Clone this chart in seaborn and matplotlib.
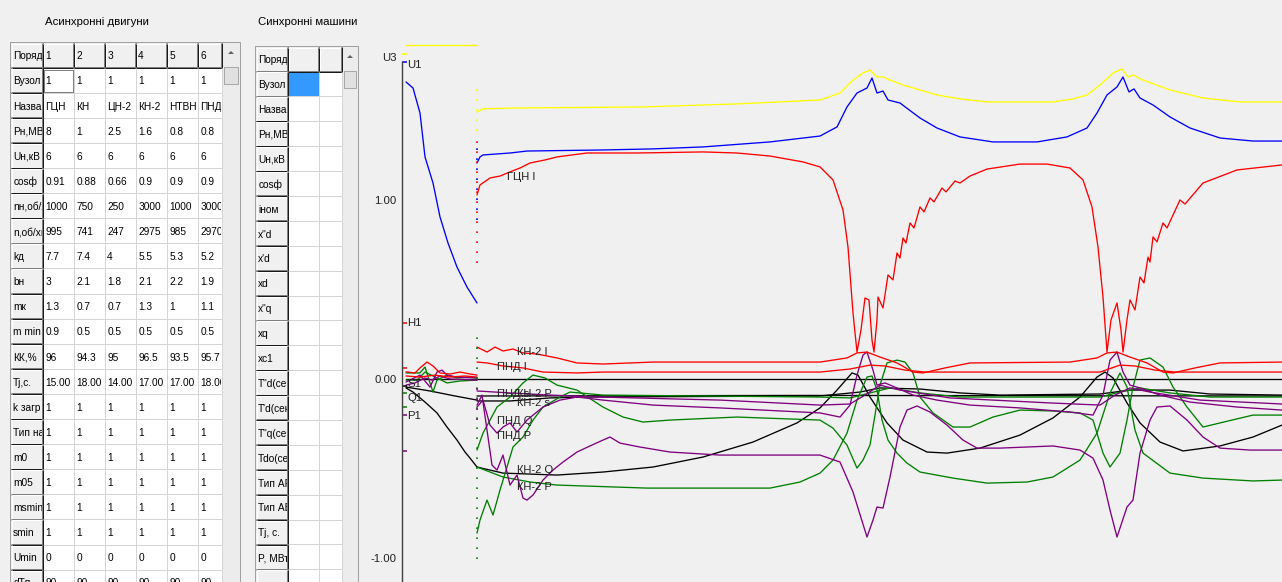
import matplotlib
matplotlib.use("Agg")
import matplotlib.pyplot as plt
from matplotlib.patches import Rectangle, Polygon
import seaborn as sns

W, H = 1282, 582
BG = "#f0f0f0"

sns.set_theme(style="white")
plt.rcParams["font.family"] = ["Liberation Sans", "DejaVu Sans"]

# ---------------- induction motors table ----------------
ad_title = "Асинхронні двигуни"
ad_fields = ["Поряд", "Вузол", "Назва", "Рн,МВт", "Uн,кВ", "cosф", "nн,об/хв", "n,об/хв",
             "kд", "bн", "mк", "m min", "КК,%", "Tj,c.", "k загр", "Тип нав", "m0", "m05",
             "msmin", "smin", "Umin", "dTп"]
ad_order = ["1", "2", "3", "4", "5", "6"]
ad_node = ["1", "1", "1", "1", "1", "1"]
ad_name = ["ГЦН", "КН", "ЦН-2", "КН-2", "НТВН", "ПНД"]
ad_pn = ["8", "1", "2.5", "1.6", "0.8", "0.8"]
ad_un = ["6", "6", "6", "6", "6", "6"]
ad_cos = ["0.91", "0.88", "0.66", "0.9", "0.9", "0.9"]
ad_nn = ["1000", "750", "250", "3000", "1000", "3000"]
ad_n = ["995", "741", "247", "2975", "985", "2970"]
ad_kd = ["7.7", "7.4", "4", "5.5", "5.3", "5.2"]
ad_bn = ["3", "2.1", "1.8", "2.1", "2.2", "1.9"]
ad_mk = ["1.3", "0.7", "0.7", "1.3", "1", "1.1"]
ad_mmin = ["0.9", "0.5", "0.5", "0.5", "0.5", "0.5"]
ad_kk = ["96", "94.3", "95", "96.5", "93.5", "95.7"]
ad_tj = ["15.00", "18.00", "14.00", "17.00", "17.00", "18.00"]
ad_kzagr = ["1", "1", "1", "1", "1", "1"]
ad_type = ["1", "1", "1", "1", "1", "1"]
ad_m0 = ["1", "1", "1", "1", "1", "1"]
ad_m05 = ["1", "1", "1", "1", "1", "1"]
ad_msmin = ["1", "1", "1", "1", "1", "1"]
ad_smin = ["1", "1", "1", "1", "1", "1"]
ad_umin = ["0", "0", "0", "0", "0", "0"]
ad_dt = ["90", "90", "90", "90", "90", "90"]
ad_body = [ad_node, ad_name, ad_pn, ad_un, ad_cos, ad_nn, ad_n, ad_kd, ad_bn, ad_mk,
           ad_mmin, ad_kk, ad_tj, ad_kzagr, ad_type, ad_m0, ad_m05, ad_msmin, ad_smin,
           ad_umin, ad_dt]

# ---------------- synchronous machines table ----------------
sm_title = "Синхронні машини"
sm_fields = ["Поряд", "Вузол", "Назва", "Рн,МВт", "Uн,кВ", "cosф", "iном", "x\"d", "x'd",
             "xd", "x\"q", "xq", "xc1", "T\"d(сек)", "T'd(сек)", "T\"q(сек)", "Tdo(сек)",
             "Тип АРВ", "Тип АВР", "Tj, с.", "P, МВт", ""]
sm_order = ["", ""]

# ---------------- transient curves (time, p.u.) ----------------
# segment before the switching instant
t_u3_a = [0.0, 0.71]
u3_a = [1.87, 1.87]
t_u1_a = [0.0, 0.07, 0.14, 0.19, 0.27, 0.34, 0.42, 0.51, 0.61, 0.71]
u1_a = [1.664, 1.630, 1.490, 1.244, 1.098, 0.908, 0.762, 0.627, 0.515, 0.426]
t_kn2_i_a = [0.0, 0.09, 0.14, 0.21, 0.27, 0.34, 0.44, 0.54, 0.64, 0.71]
kn2_i_a = [0.040, 0.034, 0.062, 0.095, 0.073, 0.034, 0.028, 0.039, 0.028, 0.022]
t_pnd_i_a = [0.0, 0.14, 0.29, 0.44, 0.59, 0.71]
pnd_i_a = [0.017, 0.011, 0.022, 0.011, 0.017, 0.011]
t_s_a = [0.0, 0.24, 0.49, 0.71]
s_a = [-0.045, -0.067, -0.095, -0.118]
t_kn2_s_a = [0.0, 0.07, 0.19, 0.31, 0.41, 0.51, 0.59, 0.64, 0.71]
kn2_s_a = [-0.050, -0.073, -0.129, -0.190, -0.269, -0.342, -0.409, -0.443, -0.493]
t_p_a1 = [0.0, 0.04, 0.14, 0.24, 0.31, 0.36, 0.41, 0.51, 0.71]
p_a1 = [-0.017, -0.006, 0.022, -0.045, 0.039, 0.050, 0.022, 0.011, 0.006]
t_p_a2 = [0.0, 0.09, 0.19, 0.26, 0.34, 0.44, 0.71]
p_a2 = [-0.034, -0.022, 0.006, -0.006, 0.017, 0.0, -0.006]
t_q_a1 = [0.0, 0.14, 0.19, 0.24, 0.27, 0.31, 0.41, 0.51, 0.64, 0.71]
q_a1 = [0.034, 0.034, 0.067, -0.022, -0.073, -0.006, 0.022, 0.006, 0.011, 0.006]
t_q_a2 = [0.0, 0.11, 0.19, 0.31, 0.41, 0.54, 0.71]
q_a2 = [-0.006, -0.006, 0.039, 0.006, -0.022, -0.011, -0.006]

# segment after the switching instant
t_u3_b = [0.71, 0.77, 1.07, 2.37, 3.31, 4.14, 4.34, 4.47, 4.57, 4.64, 4.71, 4.77, 4.84,
          4.97, 5.14, 5.31, 5.54, 5.81, 6.47, 6.67, 6.81, 6.94, 7.07, 7.16, 7.22, 7.27,
          7.37, 7.64, 7.97, 8.34, 8.76]
u3_b = [1.496, 1.513, 1.518, 1.524, 1.541, 1.563, 1.602, 1.675, 1.714, 1.731, 1.692,
        1.692, 1.675, 1.647, 1.619, 1.591, 1.569, 1.552, 1.552, 1.569, 1.591, 1.647,
        1.714, 1.737, 1.692, 1.703, 1.675, 1.619, 1.574, 1.552, 1.552]
t_u1_b = [0.71, 0.74, 0.77, 1.04, 1.21, 1.97, 2.47, 2.97, 3.64, 4.14, 4.31, 4.41, 4.51,
          4.61, 4.66, 4.71, 4.77, 4.82, 4.94, 5.14, 5.31, 5.54, 5.87, 6.31, 6.61, 6.81,
          6.91, 7.01, 7.11, 7.17, 7.23, 7.28, 7.34, 7.47, 7.64, 7.84, 8.14, 8.47, 8.76]
u1_b = [1.210, 1.244, 1.255, 1.266, 1.277, 1.283, 1.289, 1.300, 1.328, 1.361, 1.412,
        1.524, 1.602, 1.630, 1.686, 1.602, 1.613, 1.563, 1.546, 1.462, 1.406, 1.356,
        1.328, 1.328, 1.356, 1.406, 1.490, 1.591, 1.636, 1.692, 1.608, 1.625, 1.574,
        1.535, 1.468, 1.406, 1.350, 1.333, 1.333]
t_gcn_i_b = [0.71, 0.74, 0.84, 0.94, 1.04, 1.14, 1.24, 1.39, 1.51, 1.81, 2.31, 2.97, 3.31,
             3.64, 3.97, 4.14, 4.27, 4.37, 4.42, 4.47, 4.51, 4.55, 4.59, 4.63, 4.66, 4.68,
             4.71, 4.72, 4.77, 4.82, 4.87, 4.91, 4.94, 4.97, 5.00, 5.04, 5.08, 5.14, 5.18,
             5.24, 5.28, 5.36, 5.40, 5.49, 5.54, 5.64, 5.81, 6.14, 6.41, 6.64, 6.77, 6.86,
             6.92, 6.97, 7.01, 7.05, 7.11, 7.15, 7.17, 7.21, 7.24, 7.29, 7.34, 7.38, 7.42,
             7.44, 7.47, 7.51, 7.57, 7.61, 7.74, 7.79, 7.97, 8.31, 8.76]
gcn_i_b = [1.031, 1.087, 1.126, 1.137, 1.160, 1.182, 1.210, 1.227, 1.244, 1.266, 1.266,
           1.272, 1.266, 1.249, 1.216, 1.188, 1.115, 0.947, 0.739, 0.370, 0.151, 0.275,
           0.454, 0.443, 0.218, 0.151, 0.331, 0.459, 0.398, 0.583, 0.555, 0.706, 0.678,
           0.790, 0.762, 0.874, 0.846, 0.964, 0.936, 1.014, 0.992, 1.070, 1.048, 1.109,
           1.098, 1.137, 1.176, 1.204, 1.204, 1.182, 1.115, 0.964, 0.739, 0.459, 0.151,
           0.331, 0.426, 0.275, 0.151, 0.331, 0.443, 0.387, 0.571, 0.538, 0.683, 0.655,
           0.796, 0.768, 0.874, 0.846, 1.003, 0.980, 1.098, 1.171, 1.199]
t_kn2_i_b = [0.71, 0.81, 0.89, 0.97, 1.07, 1.17, 1.31, 1.51, 1.71, 1.97, 2.47, 4.14, 4.41,
             4.51, 4.61, 4.74, 4.91, 5.07, 5.17, 5.39, 5.64, 6.64, 6.91, 7.01, 7.11, 7.24,
             7.41, 7.57, 7.67, 7.89, 8.14, 8.76]
kn2_i_b = [0.179, 0.151, 0.179, 0.157, 0.168, 0.146, 0.140, 0.118, 0.090, 0.084, 0.095,
           0.095, 0.118, 0.146, 0.151, 0.123, 0.090, 0.039, 0.034, 0.062, 0.090, 0.095,
           0.118, 0.146, 0.151, 0.123, 0.090, 0.039, 0.034, 0.062, 0.090, 0.095]
t_pnd_i_b = [0.71, 0.81, 0.97, 1.17, 1.37, 1.71, 1.97, 4.14, 4.44, 4.64, 4.79, 4.99, 5.19,
             6.94, 7.14, 7.29, 7.49, 7.69, 8.76]
pnd_i_b = [0.095, 0.090, 0.073, 0.062, 0.039, 0.034, 0.039, 0.039, 0.056, 0.078, 0.073,
           0.050, 0.039, 0.039, 0.078, 0.073, 0.050, 0.039, 0.039]
t_s_b = [0.71, 1.04, 1.44, 1.77, 4.14, 4.54, 4.74, 5.14, 5.54, 5.94, 6.94, 7.24, 7.64,
         8.04, 8.76]
s_b = [-0.123, -0.123, -0.106, -0.101, -0.095, -0.073, -0.050, -0.056, -0.078, -0.090,
       -0.084, -0.062, -0.062, -0.084, -0.090]
t_s2_b = [0.71, 4.0, 8.76]
s2_b = [-0.095, -0.092, -0.095]
t_kn2_s_b = [0.71, 0.84, 0.97, 1.51, 1.97, 2.47, 2.97, 3.47, 3.91, 4.14, 4.31, 4.46, 4.52,
             4.64, 4.81, 4.97, 5.21, 5.41, 5.74, 6.14, 6.47, 6.74, 6.91, 6.99, 7.07, 7.21,
             7.34, 7.54, 7.77, 8.14, 8.47, 8.76]
kn2_s_b = [-0.493, -0.510, -0.527, -0.538, -0.521, -0.493, -0.437, -0.353, -0.246, -0.162,
           -0.062, 0.034, 0.022, -0.101, -0.246, -0.342, -0.409, -0.415, -0.387, -0.314,
           -0.218, -0.101, 0.011, 0.039, 0.006, -0.134, -0.246, -0.353, -0.403, -0.375,
           -0.325, -0.258]
t_kn2_p_b = [0.71, 0.76, 0.81, 0.86, 0.91, 0.97, 1.04, 1.11, 1.17, 1.21, 1.27, 1.37, 1.47,
             1.57, 1.71, 1.84, 1.97, 2.04, 2.14, 2.34, 2.64, 3.14, 4.14, 4.34, 4.47, 4.61,
             4.67, 4.71, 4.77, 4.84, 4.94, 5.01, 5.11, 5.24, 5.41, 5.57, 5.71, 5.94, 6.47,
             6.74, 6.87, 6.97, 7.04, 7.11, 7.21, 7.27, 7.34, 7.44, 7.51, 7.64, 7.81, 7.97,
             8.14, 8.44, 8.76]
kn2_p_b = [-0.146, -0.090, -0.286, -0.482, -0.510, -0.426, -0.594, -0.538, -0.667, -0.678,
           -0.650, -0.566, -0.510, -0.465, -0.409, -0.375, -0.342, -0.325, -0.359, -0.381,
           -0.409, -0.426, -0.426, -0.465, -0.633, -0.885, -0.790, -0.717, -0.723, -0.549,
           -0.269, -0.174, -0.151, -0.185, -0.258, -0.342, -0.387, -0.387, -0.375, -0.398,
           -0.443, -0.566, -0.734, -0.885, -0.717, -0.678, -0.415, -0.230, -0.157, -0.151,
           -0.230, -0.325, -0.387, -0.398, -0.398]
t_pnd_p_b = [0.71, 0.77, 0.84, 0.91, 0.97, 1.04, 1.11, 1.21, 1.37, 1.54, 1.71, 1.97, 2.47,
             3.14, 4.14, 4.34, 4.44, 4.51, 4.57, 4.61, 4.67, 4.71, 4.79, 4.91, 5.07, 5.31,
             5.64, 6.14, 6.64, 6.87, 6.97, 7.04, 7.11, 7.17, 7.24, 7.34, 7.54, 7.84, 8.31,
             8.76]
pnd_p_b = [-0.157, -0.118, -0.258, -0.303, -0.269, -0.246, -0.297, -0.230, -0.157, -0.118,
           -0.101, -0.118, -0.146, -0.162, -0.190, -0.213, -0.146, 0.022, 0.134, 0.151,
           0.050, -0.034, -0.022, -0.050, -0.090, -0.118, -0.146, -0.162, -0.185, -0.202,
           -0.090, 0.106, 0.151, 0.039, -0.034, -0.050, -0.090, -0.129, -0.157, -0.174]
t_p3_b = [0.71, 1.04, 1.44, 1.94, 3.14, 4.14, 4.44, 4.59, 4.74, 4.94, 5.44, 6.44, 6.94,
          7.09, 7.24, 7.44, 7.94, 8.76]
p3_b = [-0.067, -0.078, -0.090, -0.101, -0.118, -0.146, -0.140, -0.090, -0.034, -0.062,
        -0.106, -0.134, -0.146, -0.090, -0.050, -0.073, -0.118, -0.140]
t_kn2_q_b = [0.71, 0.84, 0.97, 1.24, 1.51, 2.41, 3.64, 3.94, 4.14, 4.27, 4.41, 4.51, 4.61,
             4.66, 4.71, 4.76, 4.82, 4.91, 5.01, 5.14, 5.47, 5.81, 6.21, 6.47, 6.74, 6.91,
             7.04, 7.14, 7.21, 7.29, 7.37, 7.64, 7.97, 8.47, 8.76]
kn2_q_b = [-0.493, -0.521, -0.549, -0.577, -0.594, -0.611, -0.611, -0.577, -0.527, -0.454,
           -0.303, -0.118, 0.011, 0.017, -0.062, -0.230, -0.342, -0.415, -0.471, -0.521,
           -0.555, -0.583, -0.577, -0.549, -0.454, -0.303, -0.078, 0.034, -0.045, -0.286,
           -0.415, -0.527, -0.555, -0.571, -0.566]
t_pnd_q_b = [0.71, 0.77, 0.84, 0.91, 1.04, 1.17, 1.27, 1.39, 1.51, 1.71, 1.97, 2.17, 2.37,
             2.64, 3.31, 4.14, 4.27, 4.41, 4.51, 4.57, 4.64, 4.69, 4.74, 4.81, 4.91, 4.99,
             5.07, 5.14, 5.27, 5.47, 5.64, 5.87, 6.14, 6.47, 6.74, 6.87, 6.97, 7.04, 7.14,
             7.21, 7.27, 7.34, 7.44, 7.57, 7.67, 7.81, 7.97, 8.14, 8.47, 8.76]
pnd_q_b = [-0.398, -0.303, -0.230, -0.157, -0.101, -0.022, 0.022, 0.006, -0.034, -0.062,
           -0.157, -0.213, -0.241, -0.230, -0.213, -0.230, -0.275, -0.370, -0.499, -0.454,
           -0.370, -0.202, -0.034, 0.090, 0.106, 0.095, 0.034, -0.101, -0.190, -0.269,
           -0.269, -0.213, -0.174, -0.179, -0.190, -0.230, -0.415, -0.493, -0.415, -0.230,
           -0.045, 0.106, 0.118, 0.067, -0.045, -0.157, -0.269, -0.246, -0.202, -0.202]
t_q3_b = [0.71, 0.74, 0.81, 0.87, 0.94, 1.01, 1.07, 1.17, 1.27, 1.37, 1.54, 1.64, 1.97,
          4.14, 4.44, 4.64, 4.84, 5.14, 5.54, 6.94, 7.14, 7.34, 7.64, 8.04, 8.76]
q3_b = [-0.863, -0.790, -0.678, -0.762, -0.622, -0.493, -0.381, -0.325, -0.230, -0.157,
        -0.101, -0.073, -0.090, -0.101, -0.106, -0.078, -0.050, -0.078, -0.101, -0.101,
        -0.073, -0.050, -0.078, -0.101, -0.101]

t_zero = [0.0, 8.76]
zero_line = [0.0, 0.0]

YELLOW, BLUE, RED, GREEN, PURPLE, BLACK = "#ffff00", "#0000ff", "#ff0000", "#008000", "#800080", "#000000"

curves = [
    (BLACK, t_zero, zero_line),
    (BLACK, t_s_a, s_a), (BLACK, t_s_b, s_b), (BLACK, t_s2_b, s2_b),
    (BLACK, t_kn2_s_a, kn2_s_a), (BLACK, t_kn2_s_b, kn2_s_b),
    (GREEN, t_q_a1, q_a1), (GREEN, t_q_a2, q_a2),
    (GREEN, t_kn2_q_b, kn2_q_b), (GREEN, t_pnd_q_b, pnd_q_b), (GREEN, t_q3_b, q3_b),
    (PURPLE, t_p_a1, p_a1), (PURPLE, t_p_a2, p_a2),
    (PURPLE, t_kn2_p_b, kn2_p_b), (PURPLE, t_pnd_p_b, pnd_p_b), (PURPLE, t_p3_b, p3_b),
    (RED, t_kn2_i_a, kn2_i_a), (RED, t_pnd_i_a, pnd_i_a),
    (RED, t_kn2_i_b, kn2_i_b), (RED, t_pnd_i_b, pnd_i_b), (RED, t_gcn_i_b, gcn_i_b),
    (BLUE, t_u1_a, u1_a), (BLUE, t_u1_b, u1_b),
    (YELLOW, t_u3_a, u3_a), (YELLOW, t_u3_b, u3_b),
]

# jumps at the switching instant, drawn dotted
t_switch = 0.71
jumps = [(YELLOW, 1.39, 1.63), (RED, 0.65, 1.36), (BLUE, 0.89, 1.32),
         (GREEN, -1.01, 0.27), (PURPLE, -0.23, 0.0)]

# scale markers on the axis and their names
axis_marks = [(YELLOW, 1.821), (BLUE, 1.776), (RED, 0.314), (RED, 0.062), (BLACK, -0.04),
              (GREEN, -0.078), (GREEN, -0.157), (PURPLE, -0.202), (PURPLE, -0.403)]
axis_names = [("U1", 1.76), ("H1", 0.314), ("S1", -0.03), ("Q1", -0.106), ("P1", -0.207)]

curve_labels = [(1.01, 1.132, "ГЦН I"), (1.11, 0.151, "КН-2 I"), (0.91, 0.067, "ПНД I"),
                (0.91, -0.084, "ПНД s"), (1.11, -0.084, "КН-2 Р"), (1.11, -0.134, "КН-2 s"),
                (0.91, -0.235, "ПНД Q"), (0.91, -0.320, "ПНД Р"), (1.11, -0.510, "КН-2 Q"),
                (1.11, -0.605, "КН-2 Р")]

# ---------------- figure ----------------
fig = plt.figure(figsize=(W / 100, H / 100), dpi=100, facecolor=BG)
ui = fig.add_axes([0, 0, 1, 1])
ui.set_xlim(0, W)
ui.set_ylim(H, 0)
ui.set_facecolor(BG)
ui.axis("off")

PX = 0.72  # one pixel in points


def hline(x0, x1, y, color, z=3):
    ui.plot([x0, x1], [y, y], color=color, lw=PX, zorder=z, solid_capstyle="butt")


def vline(x, y0, y1, color, z=3):
    ui.plot([x, x], [y0, y1], color=color, lw=PX, zorder=z, solid_capstyle="butt")


def cell(x0, y0, x1, y1, text, button, fill=None):
    face = BG if button else "white"
    if fill is not None:
        face = fill
    rect = Rectangle((x0, y0), x1 - x0, y1 - y0, facecolor=face, edgecolor="none", zorder=1)
    ui.add_patch(rect)
    if button:
        hline(x0, x1, y0 + 0.5, "white")
        vline(x0 + 0.5, y0, y1, "white")
        hline(x0, x1, y1 - 1.0, "#808080")
        hline(x0, x1, y1 - 0.3, "#1a1a1a")
        vline(x1 - 1.0, y0, y1, "#808080")
        vline(x1 - 0.3, y0, y1, "#1a1a1a")
    else:
        hline(x0, x1, y1 - 0.5, "#d4d4d4")
        vline(x1 - 0.5, y0, y1, "#d4d4d4")
    if text:
        clip = Rectangle((x0 + 1, y0), x1 - x0 - 2.5, y1 - y0, transform=ui.transData)
        t = ui.text(x0 + 2.2, (y0 + y1) / 2 + 0.8, text, fontsize=7.3, ha="left",
                    va="center", color="black", zorder=4, clip_on=True)
        t.set_clip_path(clip)


def scrollbar(x0, x1, y_top):
    ui.add_patch(Rectangle((x0, y_top), x1 - x0, H - y_top + 2, facecolor="#ececec",
                           edgecolor="none", zorder=1))
    cx = (x0 + x1) / 2
    ui.add_patch(Polygon([(cx - 3, y_top + 11), (cx + 3, y_top + 11), (cx, y_top + 8)],
                         closed=True, facecolor="#606060", edgecolor="none", zorder=2))
    ui.add_patch(Rectangle((x0 + 2, y_top + 24), x1 - x0 - 4, 17, facecolor="#e0e0e0",
                           edgecolor="#a8a8a8", lw=PX, zorder=2))


def table(x_edges, y_top, row_h, fields, header, body, scroll_x1, sel=None):
    ncol = len(x_edges) - 1
    n_rows = len(fields)
    for r in range(n_rows):
        y0 = y_top + r * row_h
        y1 = y0 + row_h
        for c in range(ncol):
            x0, x1 = x_edges[c], x_edges[c + 1]
            if c == 0:
                cell(x0, y0, x1, y1, fields[r], True)
            elif r == 0:
                cell(x0, y0, x1, y1, header[c - 1], True)
            else:
                txt = body[r - 1][c - 1] if body else ""
                fill = None
                if sel is not None and (r, c) == sel:
                    fill = "#3399ff"
                cell(x0, y0, x1, y1, txt, False, fill)
    scrollbar(x_edges[-1], scroll_x1, y_top)
    ui.add_patch(Rectangle((x_edges[0] - 1, y_top - 1), scroll_x1 - x_edges[0] + 1,
                           H - y_top + 10, fill=False, edgecolor="#a0a0a0", lw=PX, zorder=5))


ad_edges = [11, 43, 74, 105, 136, 167, 198, 222]
table(ad_edges, 43, 25.1, ad_fields, ad_order, ad_body, 240)
# focused cell
ui.add_patch(Rectangle((44, 69.5), 28.5, 22.5, fill=False, edgecolor="black", lw=PX,
                       ls=(0, (1, 1)), zorder=6))
ui.text(45, 22, ad_title, fontsize=8.2, ha="left", va="center", color="black")

sm_edges = [256, 288, 319, 342]
table(sm_edges, 47, 24.9, sm_fields, sm_order, None, 358, sel=(1, 1))
ui.text(258, 22, sm_title, fontsize=8.2, ha="left", va="center", color="black")

# ---------------- transient chart ----------------
ax = fig.add_axes([402 / W, 0, 880 / W, 1])
ax.set_facecolor("none")

for color, tt, vv in curves:
    sns.lineplot(x=tt, y=vv, color=color, linewidth=0.95, estimator=None, sort=False,
                 ax=ax, legend=False)

for color, lo, hi in jumps:
    ax.vlines(t_switch, lo, hi, colors=color, linestyles=(0, (1, 5)), linewidth=1.2)

for color, y in axis_marks:
    ax.hlines(y, -0.04, 0.01, colors=color, linewidth=1.1)

for name, y in axis_names:
    ax.text(0.012, y, name, fontsize=8.2, ha="left", va="center", color="#202020")
ax.text(-0.09, 1.80, "U3", fontsize=8.2, ha="right", va="center", color="#202020",
        clip_on=False)

for tx, ty, s in curve_labels:
    ax.text(tx, ty, s, fontsize=8, ha="left", va="center", color="#202020")

ax.set_xlim(-0.04, 8.76)
ax.set_ylim(-1.137, 2.123)
ax.set_xlabel("")
ax.set_ylabel("")
ax.set_xticks([])
ax.set_yticks([-1, 0, 1])
ax.set_yticklabels(["-1.00", "0.00", "1.00"])
ax.tick_params(axis="y", length=0, pad=4, labelsize=8.2, labelcolor="#202020")
for side in ["top", "right", "bottom"]:
    ax.spines[side].set_visible(False)
ax.spines["left"].set_color("#404040")
ax.spines["left"].set_linewidth(1.0)
ax.spines["left"].set_bounds(-1.137, 1.776)
ax.grid(False)

fig.savefig("out.png", dpi=100, facecolor=BG)
